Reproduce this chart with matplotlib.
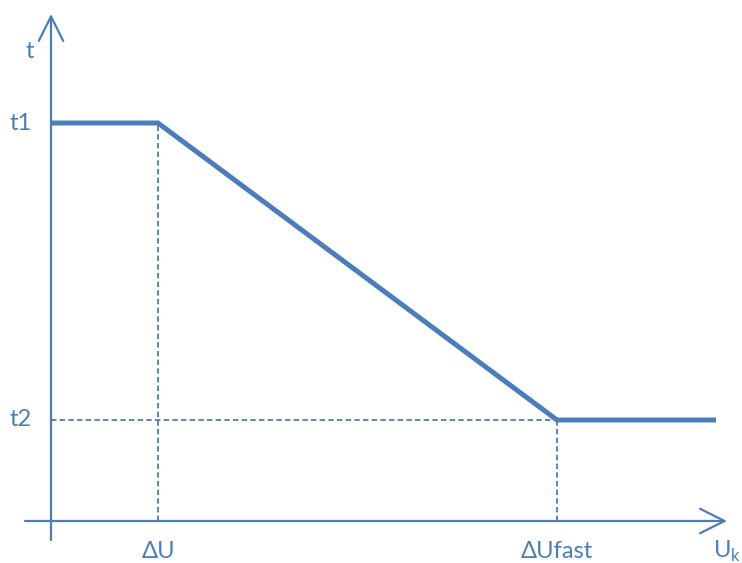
import matplotlib
matplotlib.use("Agg")
import matplotlib.pyplot as plt

# --- data (units: 1 = 100 px in the picture) ---
du = 1.07          # ΔU
du_fast = 5.06     # ΔUfast
u_end = 6.65       # end of the curve
t1 = 3.98
t2 = 1.01

curve_x = [0.0, du, du_fast, u_end]
curve_y = [t1, t1, t2, t2]

x_labels = ["ΔU", "ΔUfast"]
x_label_pos = [du, du_fast]
y_labels = ["t1", "t2"]
y_label_pos = [t1, t2]

BLUE = "#4A7EBB"
plt.rcParams['font.family'] = ['Lato', 'DejaVu Sans']
FS = 17

fig = plt.figure(figsize=(7.42, 5.63), dpi=100)
ax = fig.add_axes([0, 0, 1, 1])
ax.set_xlim(-0.51, 6.91)
ax.set_ylim(-0.42, 5.21)
ax.axis('off')

# axes with open arrow heads
arrow = dict(arrowstyle='->,head_length=1.1,head_width=0.55', lw=1.6,
             color=BLUE, shrinkA=0, shrinkB=0, mutation_scale=16)
ax.annotate('', xy=(0, 5.07), xytext=(0, -0.19), arrowprops=arrow)
ax.annotate('', xy=(6.76, 0), xytext=(-0.26, 0), arrowprops=arrow)

# dashed helper lines
dash = dict(color=BLUE, lw=1.3, ls=(0, (3, 1.8)))
ax.plot([du, du], [0, t1], **dash)
ax.plot([du_fast, du_fast], [0, t2], **dash)
ax.plot([0, du_fast], [t2, t2], **dash)

# main curve
ax.plot(curve_x, curve_y, color=BLUE, lw=3.6, solid_capstyle='butt',
        solid_joinstyle='miter')

# labels
for lab, y in zip(y_labels, y_label_pos):
    ax.text(-0.3, y, lab, color=BLUE, fontsize=FS, ha='center', va='center')
ax.text(-0.21, 4.69, "t", color=BLUE, fontsize=FS, ha='center', va='center')
for lab, x in zip(x_labels, x_label_pos):
    ax.text(x, -0.3, lab, color=BLUE, fontsize=FS, ha='center', va='center')
ax.text(6.76, -0.3, "U$_\\mathregular{k}$", color=BLUE, fontsize=FS,
        ha='center', va='center')

fig.savefig("out.png", dpi=100)
